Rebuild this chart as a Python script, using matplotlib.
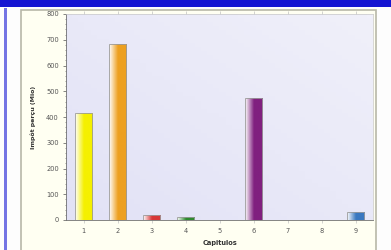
import matplotlib.pyplot as plt
import numpy as np
from matplotlib.colors import LinearSegmentedColormap
from matplotlib.patches import Rectangle

categories = ['1', '2', '3', '4', '5', '6', '7', '8', '9']
values = [415, 683, 20, 10, 0, 472, 0, 0, 31]
bar_colors = ['#f5f000', '#eda020', '#d83838', '#2e8a2e', '#888888',
              '#80207f', '#888888', '#888888', '#3a78c0']

fig = plt.figure(figsize=(3.91, 2.5), dpi=100)
fig.patch.set_facecolor('#fdfdfd')

# blue band at top and the blue rule on the left
fig.patches.append(Rectangle((0, 0.972), 1, 0.028, transform=fig.transFigure,
                             facecolor='#1414d2', edgecolor='none', zorder=-10))
fig.patches.append(Rectangle((0.011, 0.0), 0.008, 0.97, transform=fig.transFigure,
                             facecolor='#7474e4', edgecolor='none', zorder=-10))
# cream panel with grey frame
fig.patches.append(Rectangle((0.054, -0.02), 0.908, 0.98, transform=fig.transFigure,
                             facecolor='#fffff2', edgecolor='#b8b8a8', linewidth=1.2, zorder=-10))

ax = fig.add_axes([0.170, 0.12, 0.784, 0.824])
ax.set_facecolor('#e8e8f8')

# soft diagonal background shade in the plot area
bg = np.add.outer(np.linspace(0, 1, 50), np.linspace(0, 1, 50)[::-1]) / 2
bg_cmap = LinearSegmentedColormap.from_list('bg', ['#f0f0fa', '#e2e2f6'])
ax.imshow(bg, cmap=bg_cmap, aspect='auto', extent=(0.5, 9.5, 0, 800), zorder=0)

x = np.arange(1, len(categories) + 1)
width = 0.5
bars = ax.bar(x, values, width=width, color='none', edgecolor='#9a9a9a', linewidth=0.6, zorder=3)

# horizontal gradient inside each bar: light on the left, full colour on the right
for b, c in zip(bars, bar_colors):
    if b.get_height() <= 0:
        continue
    cmap = LinearSegmentedColormap.from_list('g', ['#ffffff', c, c])
    grad = np.linspace(0, 1, 64).reshape(1, -1)
    im = ax.imshow(grad, cmap=cmap, aspect='auto', zorder=2,
                   extent=(b.get_x(), b.get_x() + b.get_width(), 0, b.get_height()))
    im.set_clip_path(b)

ax.set_xlim(0.5, 9.5)
ax.set_ylim(0, 800)
ax.set_xticks(x)
ax.set_xticklabels(categories)
ax.set_yticks(range(0, 801, 100))
ax.set_yticks(range(0, 801, 20), minor=True)
ax.tick_params(axis='both', labelsize=4.8, colors='#555555', length=2, width=0.5)
ax.tick_params(axis='y', which='minor', length=1, width=0.4, color='#555555')
ax.tick_params(axis='x', length=2, pad=4, top=True, color='#c0c0c0')

for s in ['top', 'right']:
    ax.spines[s].set_color('#c8c8c8')
    ax.spines[s].set_linewidth(0.5)
for s in ['left', 'bottom']:
    ax.spines[s].set_color('#707070')
    ax.spines[s].set_linewidth(0.6)

ax.set_ylabel('Impôt perçu (Mio)', fontsize=4.5, fontweight='bold', color='#333333', labelpad=7)
ax.set_xlabel('Capitulos', fontsize=4.8, fontweight='bold', color='#333333', labelpad=4)

plt.savefig('out.png', dpi=100)
